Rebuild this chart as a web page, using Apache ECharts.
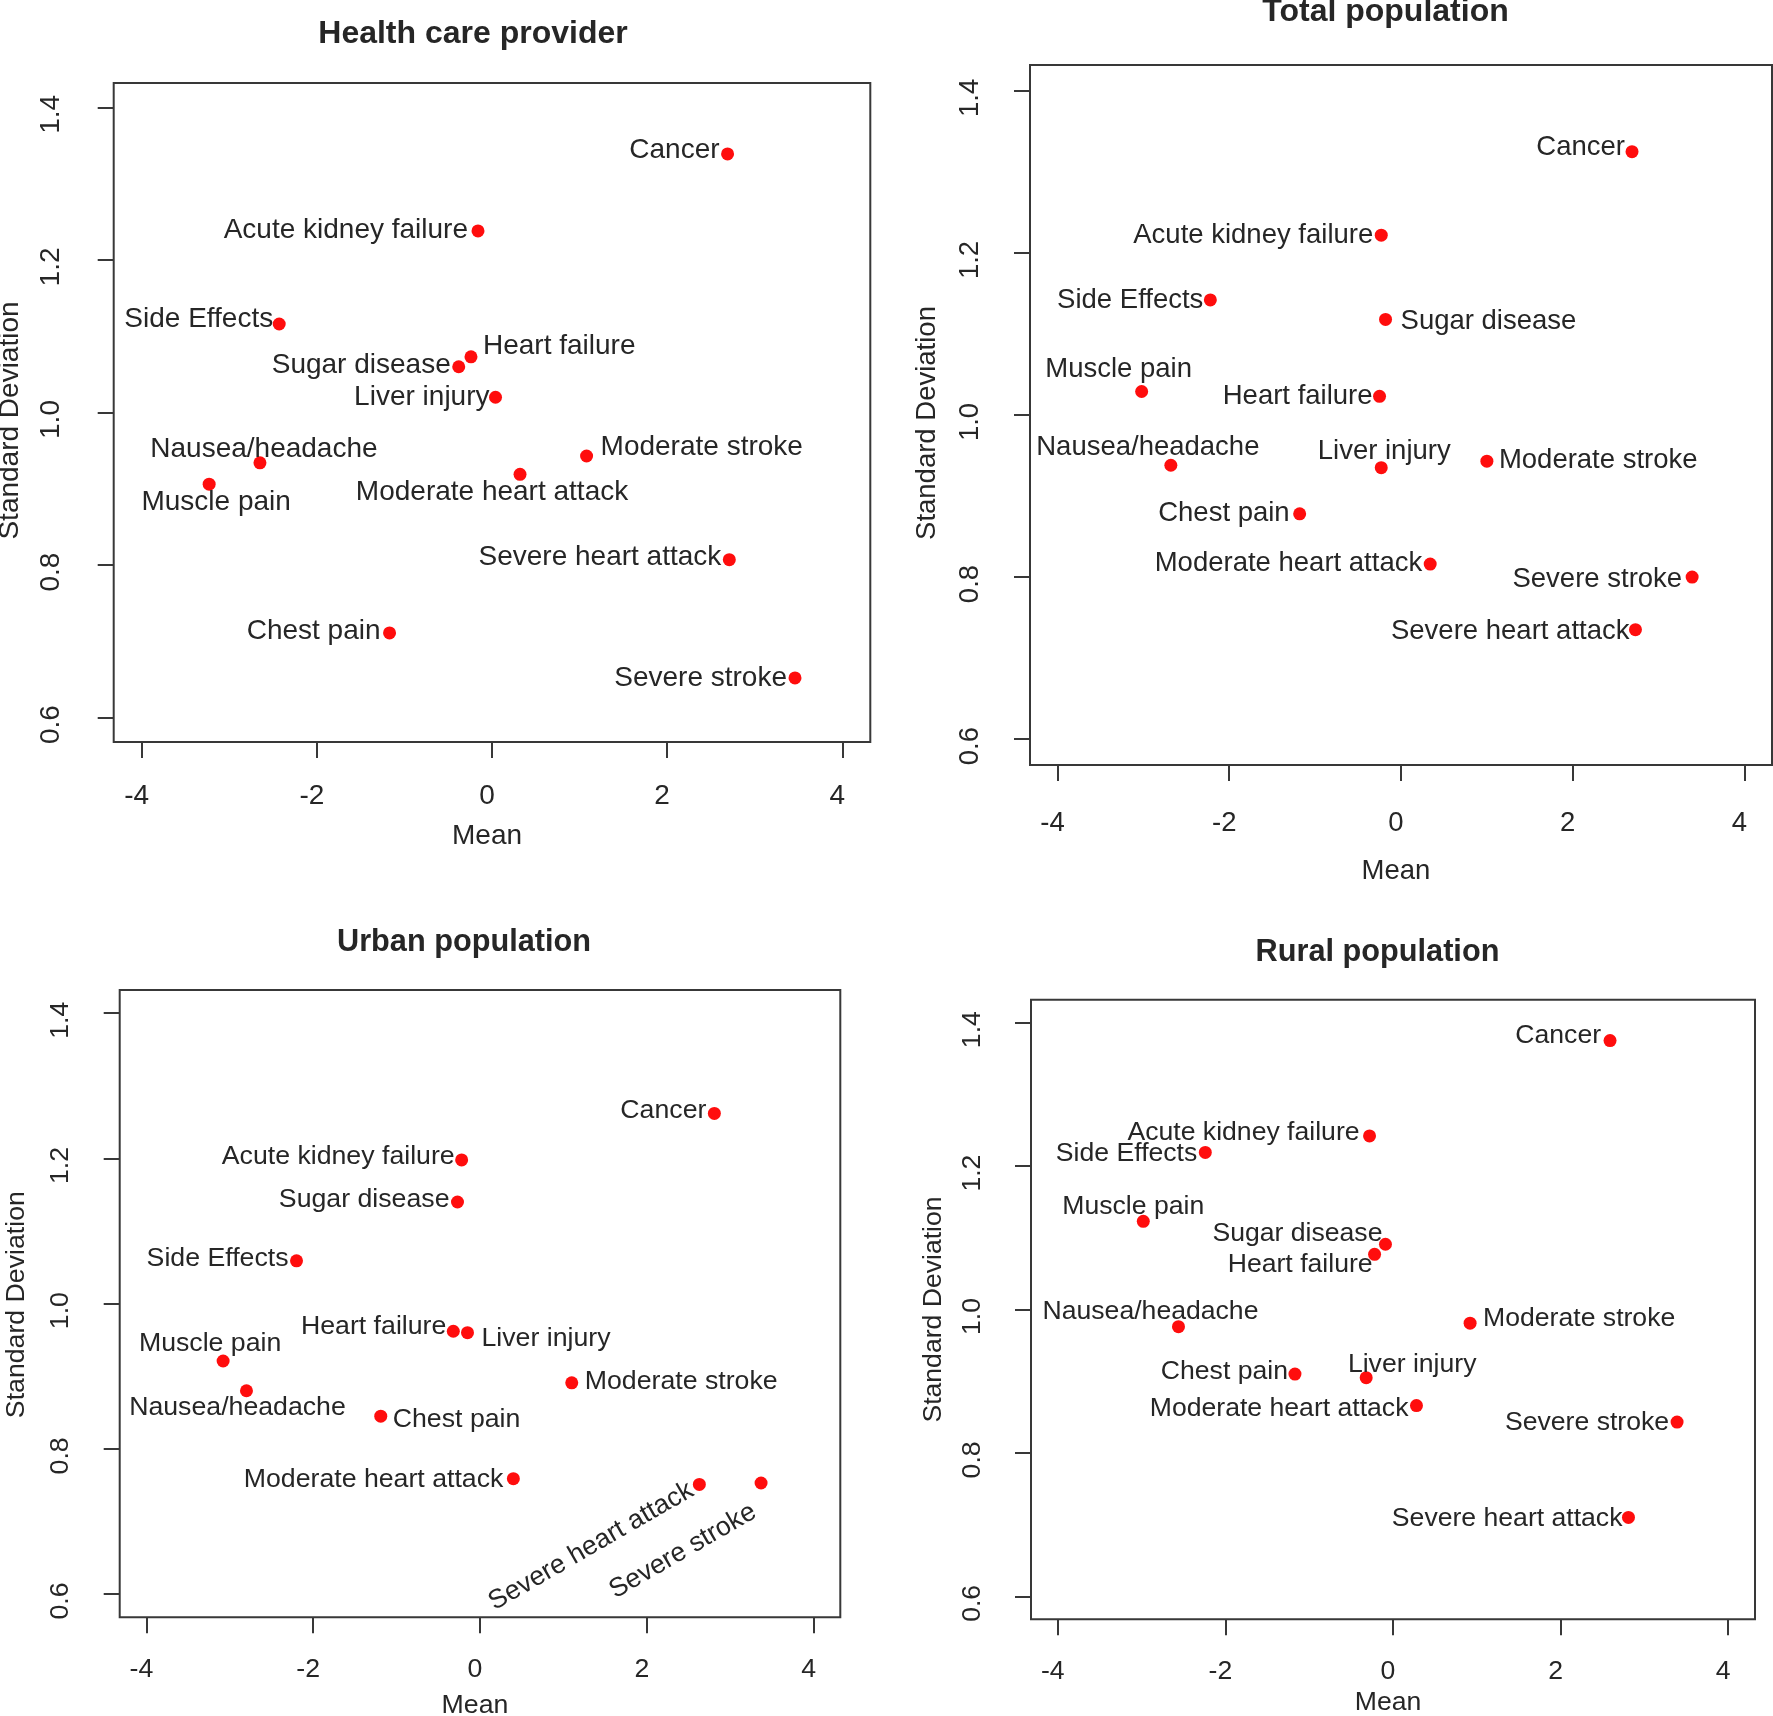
<!DOCTYPE html>
<html><head><meta charset="utf-8">
<script src="https://cdn.jsdelivr.net/npm/echarts@6/dist/echarts.min.js"></script>
<style>html,body{margin:0;padding:0;background:#fff}#c{width:1773px;height:1716px}</style>
</head><body><div id="c"></div>
<script>
// ---------- DATA ----------
const diseases = ['Cancer','Acute kidney failure','Side Effects','Heart failure','Sugar disease','Liver injury',
  'Moderate stroke','Moderate heart attack','Nausea/headache','Muscle pain','Severe heart attack','Chest pain','Severe stroke'];
const panelTitles = ['Health care provider','Total population','Urban population','Rural population'];
const xTicks = [-4, -2, 0, 2, 4];
const yTicks = [0.6, 0.8, 1.0, 1.2, 1.4];
const xName = 'Mean';
const yName = 'Standard Deviation';

const meanHCP = [2.69, -0.16, -2.43, -0.24, -0.38, 0.04, 1.08, 0.32, -2.65, -3.23, 2.71, -1.17, 3.46];
const sdHCP   = [1.339, 1.238, 1.116, 1.073, 1.060, 1.020, 0.943, 0.919, 0.934, 0.906, 0.807, 0.711, 0.652];

const meanTotal = [2.69, -0.23, -2.22, -0.25, -0.18, -0.23, 1.00, 0.34, -2.68, -3.02, 2.73, -1.18, 3.39];
const sdTotal   = [1.325, 1.222, 1.142, 1.023, 1.118, 0.935, 0.943, 0.816, 0.938, 1.029, 0.735, 0.878, 0.800];

const meanUrban = [2.81, -0.22, -2.20, -0.32, -0.27, -0.15, 1.10, 0.40, -2.80, -3.08, 2.63, -1.19, 3.37];
const sdUrban   = [1.262, 1.198, 1.059, 0.962, 1.140, 0.960, 0.891, 0.759, 0.880, 0.921, 0.751, 0.845, 0.753];

const meanRural = [2.59, -0.28, -2.24, -0.22, -0.09, -0.32, 0.92, 0.28, -2.56, -2.98, 2.81, -1.17, 3.39];
const sdRural   = [1.375, 1.242, 1.219, 1.077, 1.091, 0.905, 0.981, 0.866, 0.976, 1.123, 0.710, 0.910, 0.843];

// ---------- LABEL PLACEMENT (screen px offsets from each point: align, dx, dy, rotate) ----------
const placeHCP = [['right',-8,-4],['right',-10,-1],['right',-6,-5],['left',12,-11],['right',-8,-1],['right',-6,0],
  ['left',14,-9],['center',-28,18],['center',4,-14],['center',7,18],['right',-8,-2],['right',-9,-2],['right',-8,0]];
const placeTotal = [['right',-7,-4],['right',-8,0],['right',-7,0],['right',-7,0],['left',15,2],['center',3,-16],
  ['left',12,-1],['right',-8,-1],['center',-23,-18],['center',-23,-22],['right',-6,2],['right',-10,0],['right',-10,2]];
const placeUrban = [['right',-8,-3],['right',-7,-3],['right',-8,-2],['right',-7,-5],['right',-8,-2],['left',14,6],
  ['left',13,-1],['right',-10,1],['center',-9,17],['center',-13,-17],['right',-8,4,30],['left',12,3],['right',-7,27,30]];
const placeRural = [['right',-9,-5],['right',-10,-3],['right',-8,1],['right',-2,10],['right',-3,-11],['center',46,-13],
  ['left',13,-4],['right',-8,3],['center',-28,-15],['center',-10,-15],['right',-6,1],['right',-7,-2],['right',-8,1]];

// ---------- LAYOUT ----------
const TX = '#262626', AX = '#383838', RED = '#ff0d0d';
const FONT = '"Liberation Sans", Arial, Helvetica, sans-serif';
const panels = [
  {title: panelTitles[0], mean: meanHCP, sd: sdHCP, place: placeHCP,
   grid: [113.7, 83, 756.6, 659], font: 28, tFont: 32, tPos: [473, 34],
   xMargin: 40.7, yMargin: 48.5, xGap: 80, yGap: 89, yShift: 16},
  {title: panelTitles[1], mean: meanTotal, sd: sdTotal, place: placeTotal,
   grid: [1030, 65, 742, 700], font: 27.5, tFont: 32, tPos: [1385.5, 12.5],
   xMargin: 44.5, yMargin: 46, xGap: 92, yGap: 89, yShift: 16},
  {title: panelTitles[2], mean: meanUrban, sd: sdUrban, place: placeUrban,
   grid: [119.7, 990, 720.6, 627.3], font: 26.7, tFont: 30.7, tPos: [464, 943],
   xMargin: 38.7, yMargin: 45.5, xGap: 75, yGap: 90, yShift: 2},
  {title: panelTitles[3], mean: meanRural, sd: sdRural, place: placeRural,
   grid: [1031, 999.7, 724, 619.6], font: 26.6, tFont: 30.7, tPos: [1377.5, 953],
   xMargin: 38.4, yMargin: 44.7, xGap: 70, yGap: 84, yShift: 0}
];

const option = {
  animation: false,
  backgroundColor: '#ffffff',
  textStyle: {fontFamily: FONT, color: TX},
  graphic: panels.map(p => ({
    type: 'text', x: p.tPos[0], y: p.tPos[1], silent: true,
    style: {text: p.title, fontSize: p.tFont, fontWeight: 'bold', fontFamily: FONT, fill: TX,
            align: 'center', verticalAlign: 'middle', textAlign: 'center', textVerticalAlign: 'middle'}
  })),
  grid: panels.map(p => ({
    left: p.grid[0], top: p.grid[1], width: p.grid[2], height: p.grid[3],
    show: true, borderColor: AX, borderWidth: 2, backgroundColor: 'transparent',
    containLabel: false, outerBoundsMode: 'none'
  })),
  xAxis: panels.map((p, i) => ({
    type: 'value', gridIndex: i, min: -4.32, max: 4.32, position: 'bottom',
    axisLine: {show: false, onZero: false}, splitLine: {show: false},
    axisTick: {show: true, customValues: xTicks, length: 16, lineStyle: {color: AX, width: 2}},
    axisLabel: {show: true, customValues: xTicks, margin: p.xMargin, fontSize: p.font, color: TX,
                fontFamily: FONT, padding: [0, 10, 0, 0], formatter: v => String(v)},
    name: xName, nameLocation: 'middle', nameGap: p.xGap,
    nameTextStyle: {fontSize: p.font, color: TX, fontFamily: FONT, padding: [0, 10, 0, 0]}
  })),
  yAxis: panels.map((p, i) => ({
    type: 'value', gridIndex: i, min: 0.568, max: 1.432, position: 'left',
    axisLine: {show: false, onZero: false}, splitLine: {show: false},
    axisTick: {show: true, customValues: yTicks, length: 16, lineStyle: {color: AX, width: 2}},
    axisLabel: {show: true, customValues: yTicks, rotate: 90, margin: p.yMargin, fontSize: p.font, color: TX,
                fontFamily: FONT, padding: [0, 14, 0, 0], formatter: v => v.toFixed(1)},
    name: yName, nameLocation: 'middle', nameGap: p.yGap,
    nameTextStyle: {fontSize: p.font, color: TX, fontFamily: FONT, padding: [0, p.yShift, 0, 0]}
  })),
  series: panels.map((p, i) => ({
    type: 'scatter', xAxisIndex: i, yAxisIndex: i, symbol: 'circle', symbolSize: 13,
    itemStyle: {color: RED, opacity: 1}, emphasis: {disabled: true}, silent: true,
    data: diseases.map((d, k) => {
      const pl = p.place[k];
      const rot = pl[3] || 0;
      let ox = pl[1], oy = pl[2];
      if (rot) {
        const t = rot * Math.PI / 180;
        ox = pl[1] * Math.cos(t) - pl[2] * Math.sin(t);
        oy = pl[1] * Math.sin(t) + pl[2] * Math.cos(t);
      }
      return {
        name: d, value: [p.mean[k], p.sd[k]],
        label: {show: true, position: ['50%', '50%'], offset: [ox, oy], align: pl[0], verticalAlign: 'middle',
                rotate: rot, formatter: '{b}', fontSize: p.font, color: TX, fontFamily: FONT}
      };
    })
  }))
};

const chart = echarts.init(document.getElementById('c'), null, {renderer: 'canvas'});
chart.setOption(option);
</script>
</body></html>
